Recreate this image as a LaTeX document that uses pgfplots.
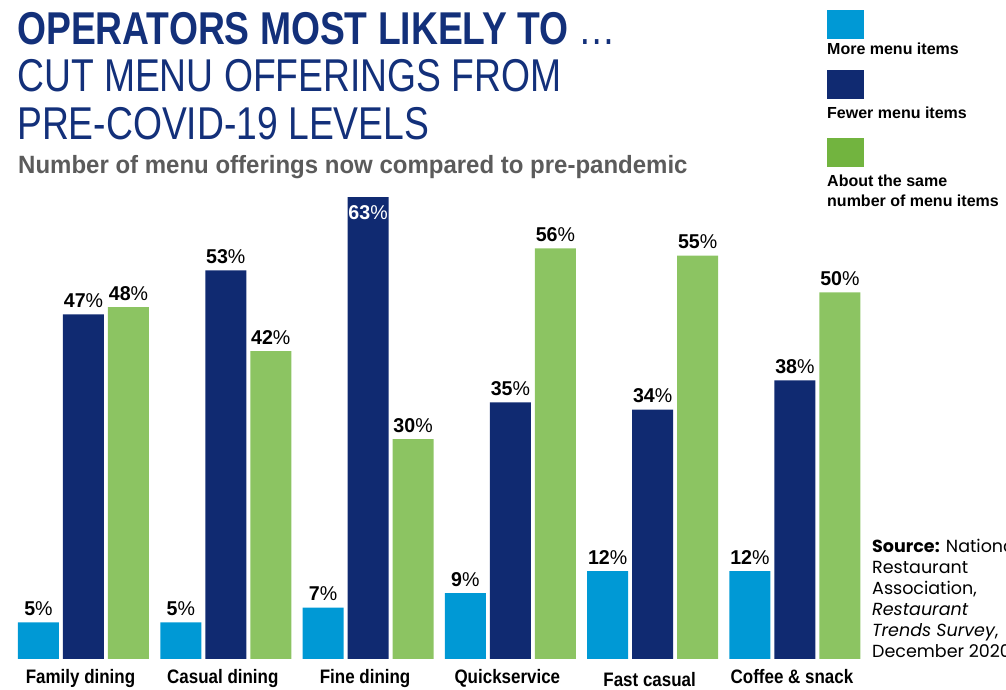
\documentclass[border=0pt]{standalone}
\usepackage{fontspec}
\setmainfont{Liberation Sans}
\usepackage{pgfplots}
\pgfplotsset{compat=1.18}
\newfontfamily\condA[FakeStretch=0.81]{Liberation Sans}
\newfontfamily\condB[FakeStretch=0.87]{Liberation Sans}
\newfontfamily\condC[FakeStretch=0.98]{Liberation Sans}
\newfontfamily\condD[FakeStretch=0.96]{Liberation Sans}
\newfontfamily\srcfont{Poppins}
\definecolor{lblue}{HTML}{0099D5}
\definecolor{navy}{HTML}{102A71}
\definecolor{lgreen}{HTML}{8CC462}
\definecolor{leggreen}{HTML}{72B43F}
\definecolor{titlenavy}{HTML}{13307A}
\definecolor{subgray}{HTML}{5B5B5B}
\newcommand{\vlab}[1]{\textbf{#1}\%}
\begin{document}
\begin{tikzpicture}[x=1pt,y=1pt]
\useasboundingbox (0,0) rectangle (1006,690);
% titles
\node[anchor=base west, inner sep=0pt, text=titlenavy, font=\condA\fontsize{46}{46}\selectfont] at (17,645) {\textbf{OPERATORS MOST LIKELY TO} \ldots};
\node[anchor=base west, inner sep=0pt, text=titlenavy, font=\condA\fontsize{46}{46}\selectfont] at (17,598) {CUT MENU OFFERINGS FROM};
\node[anchor=base west, inner sep=0pt, text=titlenavy, font=\condA\fontsize{46}{46}\selectfont] at (17,550) {PRE-COVID-19 LEVELS};
\node[anchor=base west, inner sep=0pt, text=subgray, font=\condD\fontsize{25}{25}\selectfont\bfseries] at (18,516) {Number of menu offerings now compared to pre-pandemic};
% legend
\fill[lblue] (827,651) rectangle (864,680);
\node[anchor=base west, inner sep=0pt, font=\fontsize{16}{16}\selectfont\bfseries] at (827,635) {More menu items};
\fill[navy] (827,591) rectangle (864,620);
\node[anchor=base west, inner sep=0pt, font=\fontsize{16}{16}\selectfont\bfseries] at (827,571) {Fewer menu items};
\fill[leggreen] (827,523) rectangle (864,552);
\node[anchor=base west, inner sep=0pt, font=\fontsize{16}{16}\selectfont\bfseries] at (827,503) {About the same};
\node[anchor=base west, inner sep=0pt, font=\fontsize{16}{16}\selectfont\bfseries] at (827,483) {number of menu items};
% source
\node[anchor=base west, inner sep=0pt, font=\srcfont\fontsize{17.5}{17.5}\selectfont] at (872,137) {\textbf{Source:} National};
\node[anchor=base west, inner sep=0pt, font=\srcfont\fontsize{17.5}{17.5}\selectfont] at (872,116) {Restaurant};
\node[anchor=base west, inner sep=0pt, font=\srcfont\fontsize{17.5}{17.5}\selectfont] at (872,95) {Association,};
\node[anchor=base west, inner sep=0pt, font=\srcfont\fontsize{17.5}{17.5}\selectfont] at (872,74) {\textit{Restaurant}};
\node[anchor=base west, inner sep=0pt, font=\srcfont\fontsize{17.5}{17.5}\selectfont] at (872,53) {\textit{Trends Survey}, };
\node[anchor=base west, inner sep=0pt, font=\srcfont\fontsize{17.5}{17.5}\selectfont] at (872,32) {December 2020};
\begin{axis}[
  at={(0pt,31pt)}, anchor=south west,
  scale only axis, width=1006pt, height=659pt,
  xmin=-0.5868, xmax=6.483, ymin=0, ymax=89.87,
  clip=false,
  axis line style={draw=none},
  tick style={draw=none},
  ytick=\empty,
  ybar=4pt, bar width=41pt,
  xtick={0,1,2,3,4,5},
  xticklabels={Family dining, Casual dining, Fine dining, Quickservice, \raisebox{-3.5pt}{Fast casual}, Coffee \& snack},
  xticklabel style={anchor=base, inner sep=0pt, yshift=-20pt, xshift=-3pt, font=\condB\fontsize{19.5}{19.5}\selectfont\bfseries},
  nodes near coords style={anchor=base, inner sep=0pt, yshift=7pt, font=\condC\fontsize{20}{20}\selectfont, text=black},
  point meta=explicit symbolic,
  nodes near coords={\pgfplotspointmeta},
]
\addplot[fill=lblue, draw=none]
  coordinates {(0,5) [\vlab{5}] (1,5) [\vlab{5}] (2,7) [\vlab{7}] (3,9) [\vlab{9}] (4,12) [\vlab{12}] (5,12) [\vlab{12}]};
\addplot[fill=navy, draw=none]
  coordinates {(0,47) [\vlab{47}] (1,53) [\vlab{53}] (2,63) [{}] (3,35) [\vlab{35}] (4,34) [\vlab{34}] (5,38) [\vlab{38}]};
\addplot[fill=lgreen, draw=none]
  coordinates {(0,48) [\vlab{48}] (1,42) [\vlab{42}] (2,30) [\vlab{30}] (3,56) [\vlab{56}] (4,55) [\vlab{55}] (5,50) [\vlab{50}]};
\node[anchor=north, inner sep=0pt, yshift=-8pt, text=white, font=\condC\fontsize{20}{20}\selectfont] at (axis cs:2,63) {\vlab{63}};
\end{axis}
\end{tikzpicture}
\end{document}
